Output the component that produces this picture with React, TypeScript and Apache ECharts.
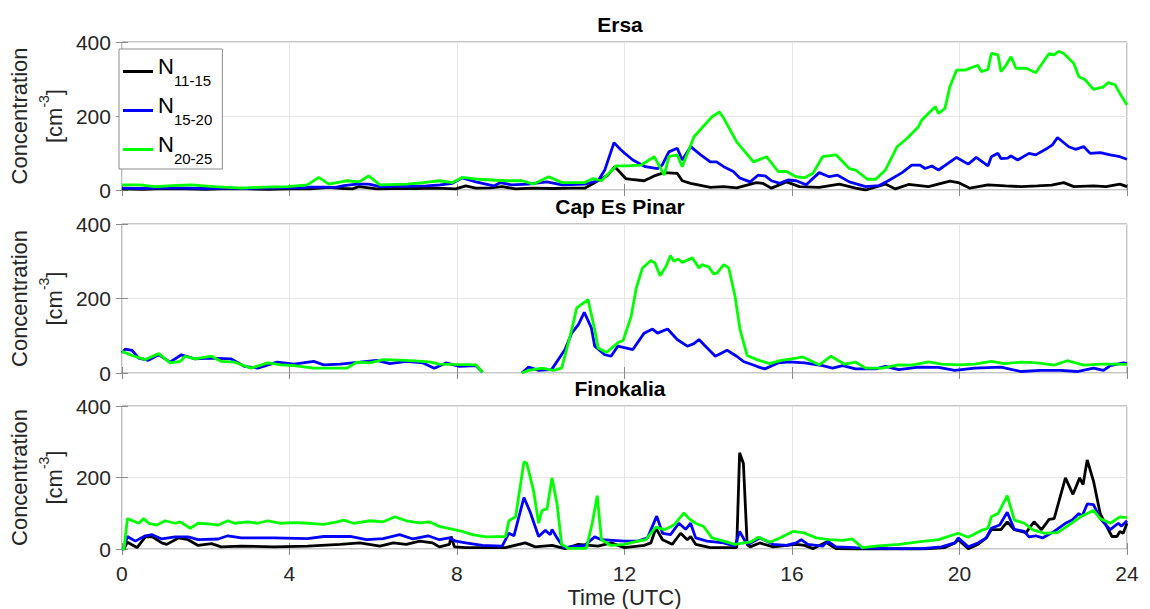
import React, { useEffect, useRef } from "react";
import * as echarts from "echarts";

type Pt = [number, number | string];

const FONT = '"Liberation Sans", Arial, Helvetica, sans-serif';

const seriesNames = ["N11-15", "N15-20", "N20-25"];
const seriesColors = ["#000000", "#0000ff", "#00ff00"];
const panelTitles = ["Ersa", "Cap Es Pinar", "Finokalia"];
const xMin = 0;
const xMax = 24;
const xStep = 4;
const yMin = 0;
const yMax = 400;
const yStep = 200;

// ---- Ersa ----
const ersaN1115: Pt[] = [[0,3],[0.5,2],[1,4],[1.5,3],[2,2],[2.5,4],[3,3],[3.5,2],[4,3],[4.5,3],[4.94,7],[5.3,4],[5.5,3],[5.66,9],[6.08,3],[6.5,4],[7,4],[7.5,5],[7.97,3],[8.21,11],[8.45,5],[8.8,6],[9.08,9],[9.4,3],[9.8,5],[10.3,4],[10.7,5],[11.05,5],[11.37,25],[11.6,40],[11.77,63],[12.03,31],[12.16,29],[12.47,25],[12.71,38],[12.95,47],[13.26,45],[13.38,25],[13.58,18],[14.05,7],[14.37,9],[14.68,6],[15.15,20],[15.3,18],[15.51,5],[15.87,22],[16.18,9],[16.65,7],[17.13,16],[17.52,5],[17.76,0],[18.23,16],[18.47,3],[18.78,15],[19.26,9],[19.77,24],[19.97,20],[20.25,5],[20.68,14],[21.1,11],[21.47,9],[21.86,11],[22.2,13],[22.49,20],[22.73,9],[23.2,11],[23.5,9],[23.83,16],[24,9]];
const ersaN1520: Pt[] = [[0,5],[0.5,4],[1,6],[1.5,5],[2,4],[2.5,5],[3,4],[3.5,5],[4,6],[4.3,6],[4.5,8],[4.8,8],[5.1,7],[5.3,12],[5.61,16],[5.9,16],[6.16,9],[6.6,10],[7.27,11],[7.6,14],[7.89,18],[8.13,33],[8.45,22],[8.88,11],[9.04,20],[9.3,14],[9.7,16],[10.15,22],[10.51,14],[11.05,16],[11.37,25],[11.53,54],[11.75,128],[11.9,110],[12.0,100],[12.2,81],[12.5,63],[12.79,58],[12.9,67],[13.06,103],[13.26,113],[13.38,81],[13.58,117],[13.82,95],[14.05,76],[14.2,76],[14.37,63],[14.6,50],[14.76,32],[15.0,22],[15.19,40],[15.36,38],[15.51,25],[15.71,18],[15.9,27],[16.1,25],[16.34,14],[16.65,47],[16.89,36],[17.09,40],[17.37,22],[17.76,9],[18.08,12],[18.3,25],[18.63,47],[18.86,67],[19.06,67],[19.18,58],[19.34,65],[19.5,54],[19.93,88],[20.21,70],[20.4,88],[20.68,65],[20.76,90],[20.92,99],[20.99,85],[21.15,86],[21.23,92],[21.39,81],[21.66,99],[21.82,95],[22.1,113],[22.22,122],[22.34,142],[22.61,117],[22.77,110],[22.97,117],[23.12,99],[23.36,101],[23.6,95],[23.83,90],[24,83]];
const ersaN2025: Pt[] = [[0,14],[0.4,14],[0.8,9],[1.2,12],[1.66,14],[2.2,9],[2.85,5],[3.4,8],[3.95,9],[4.43,14],[4.7,34],[4.94,16],[5.37,25],[5.66,22],[5.89,38],[6.16,14],[6.79,16],[7.2,20],[7.58,25],[7.89,20],[8.13,34],[8.53,29],[9.16,25],[9.55,25],[9.83,16],[10.19,36],[10.51,20],[11.05,20],[11.25,31],[11.45,25],[11.8,65],[12.05,65],[12.39,67],[12.71,90],[12.95,40],[13.06,90],[13.26,95],[13.38,63],[13.66,144],[14.09,198],[14.27,211],[14.37,194],[14.68,130],[15.08,76],[15.39,90],[15.67,50],[15.87,50],[16.1,36],[16.3,33],[16.5,45],[16.73,90],[17.05,95],[17.37,58],[17.52,54],[17.8,29],[18.0,29],[18.23,54],[18.51,117],[18.75,140],[19.02,171],[19.1,189],[19.42,225],[19.5,207],[19.65,220],[19.77,279],[19.93,324],[20.13,324],[20.44,337],[20.52,320],[20.68,326],[20.76,369],[20.92,365],[20.99,320],[21.11,337],[21.23,360],[21.35,329],[21.59,329],[21.82,317],[22.14,369],[22.26,365],[22.37,375],[22.49,369],[22.73,342],[22.85,306],[23.0,298],[23.2,272],[23.44,279],[23.55,290],[23.71,285],[23.83,261],[24,230]];

// ---- Cap Es Pinar ----
const capN1520: Pt[] = [[0,54],[0.08,64],[0.24,61],[0.4,40],[0.63,34],[0.88,49],[1.15,29],[1.42,49],[1.74,38],[2.14,40],[2.6,38],[2.92,18],[3.24,13],[3.71,29],[4.11,24],[4.58,31],[4.82,22],[5.21,24],[5.68,29],[6.08,34],[6.4,25],[6.79,31],[7.19,27],[7.46,13],[7.74,27],[8.06,18],[8.45,20],[8.61,2],[9.0,"-"],[9.55,0],[9.71,16],[9.95,7],[10.26,9],[10.58,63],[10.74,107],[10.9,130],[11.04,163],[11.21,121],[11.29,72],[11.53,49],[11.68,45],[11.84,72],[12.05,67],[12.2,63],[12.47,107],[12.67,118],[12.79,107],[13.03,118],[13.26,90],[13.5,72],[13.66,79],[13.78,90],[13.9,76],[14.17,45],[14.45,61],[14.68,45],[14.84,31],[15.16,18],[15.35,11],[15.67,27],[15.94,30],[16.3,27],[16.73,20],[16.97,13],[17.21,20],[17.52,11],[18.0,11],[18.23,18],[18.55,9],[19.02,16],[19.5,15],[19.89,7],[20.36,13],[20.99,16],[21.47,4],[21.94,7],[22.41,7],[22.81,4],[23.2,13],[23.44,7],[23.6,20],[23.91,27],[24,25]];
const capN2025: Pt[] = [[0,58],[0.24,47],[0.56,36],[0.88,52],[1.15,27],[1.39,31],[1.51,45],[1.74,38],[2.14,45],[2.37,31],[2.69,29],[3.08,13],[3.48,27],[3.8,22],[4.11,20],[4.58,13],[5.37,13],[5.61,29],[5.92,27],[6.24,36],[6.79,34],[7.34,30],[7.58,24],[7.9,23],[8.45,22],[8.61,2],[9.0,"-"],[9.55,0],[9.71,7],[10.03,13],[10.3,7],[10.5,13],[10.7,98],[10.86,175],[11.13,197],[11.29,116],[11.37,67],[11.57,55],[11.84,81],[11.97,88],[12.16,152],[12.28,228],[12.43,282],[12.63,302],[12.73,295],[12.85,261],[12.99,286],[13.1,315],[13.18,300],[13.28,306],[13.38,297],[13.62,309],[13.78,282],[13.85,291],[14.01,285],[14.13,266],[14.21,268],[14.37,291],[14.49,282],[14.64,206],[14.76,116],[14.93,47],[15.16,36],[15.47,25],[15.71,33],[16.1,40],[16.26,43],[16.65,22],[16.93,45],[17.25,24],[17.52,29],[17.76,13],[18.15,13],[18.55,22],[18.86,21],[19.26,30],[19.57,24],[19.97,22],[20.36,24],[20.76,31],[21.07,25],[21.47,29],[21.86,27],[22.26,21],[22.57,33],[22.97,21],[23.36,24],[23.68,24],[24,23]];

// ---- Finokalia ----
const finN1115: Pt[] = [[0,0],[0.05,0],[0.13,19],[0.36,4],[0.56,34],[0.72,35],[0.95,17],[1.07,13],[1.35,31],[1.58,26],[1.82,10],[2.14,15],[2.37,6],[2.85,8],[3.64,6],[4.43,8],[5.21,13],[5.68,17],[6.16,8],[6.48,17],[6.79,13],[7.11,22],[7.42,17],[7.58,6],[7.82,13],[7.86,35],[7.94,6],[8.21,4],[9.16,4],[9.63,17],[9.87,6],[10.27,10],[10.58,1],[10.9,13],[11.37,8],[11.68,17],[12.0,4],[12.47,10],[12.63,17],[12.75,58],[12.91,26],[13.14,13],[13.34,44],[13.5,26],[13.58,35],[13.7,13],[14.05,4],[14.68,4],[14.75,269],[14.84,239],[14.93,13],[15.0,6],[15.23,17],[15.55,6],[16.1,13],[16.3,10],[16.5,1],[16.81,19],[17.05,1],[17.52,0],[19.1,0],[19.65,4],[19.89,17],[19.97,26],[20.21,1],[20.44,13],[20.64,31],[20.76,54],[20.99,54],[21.14,76],[21.31,54],[21.59,46],[21.78,76],[21.96,54],[22.14,83],[22.26,85],[22.53,199],[22.71,153],[22.87,199],[22.95,180],[23.05,249],[23.2,190],[23.36,99],[23.64,35],[23.76,35],[23.83,49],[23.91,44],[24,72]];
const finN1520: Pt[] = [[0,0],[0.05,0],[0.13,35],[0.32,22],[0.56,37],[0.72,40],[0.95,28],[1.27,34],[1.58,34],[1.82,26],[2.3,28],[2.53,37],[2.85,31],[3.64,31],[4.43,29],[4.82,35],[5.45,35],[5.84,26],[6.24,29],[6.63,40],[6.95,28],[7.31,37],[7.58,26],[7.82,31],[7.97,22],[8.21,17],[8.61,10],[9.08,8],[9.24,44],[9.36,37],[9.6,144],[9.75,103],[9.95,35],[10.11,52],[10.23,40],[10.27,55],[10.39,31],[10.55,4],[11.05,10],[11.29,34],[11.45,26],[12.0,22],[12.32,22],[12.55,31],[12.77,92],[12.91,44],[13.1,40],[13.3,72],[13.46,55],[13.58,72],[13.7,31],[13.97,22],[14.37,17],[14.64,8],[14.75,49],[14.88,22],[14.96,13],[15.23,31],[15.55,13],[15.87,10],[16.1,17],[16.22,26],[16.38,13],[16.73,8],[16.85,22],[17.05,6],[17.52,4],[18.31,1],[19.1,1],[19.57,6],[19.89,17],[19.97,31],[20.21,6],[20.44,17],[20.64,31],[20.76,58],[20.96,67],[21.14,103],[21.31,55],[21.55,49],[21.66,34],[21.82,37],[21.98,31],[22.26,49],[22.53,72],[22.69,81],[22.85,99],[22.93,92],[23.05,126],[23.2,124],[23.36,85],[23.6,54],[23.79,72],[23.87,64],[24,79]];
const finN2025: Pt[] = [[0,0],[0.05,0],[0.13,85],[0.4,72],[0.52,85],[0.64,72],[0.84,67],[1.03,79],[1.27,72],[1.39,76],[1.63,58],[1.82,72],[2.06,70],[2.3,67],[2.53,79],[2.69,72],[3.0,76],[3.24,72],[3.48,79],[3.8,72],[4.11,74],[4.43,72],[4.82,69],[5.14,76],[5.29,81],[5.53,72],[5.92,79],[6.24,76],[6.52,90],[6.79,79],[7.11,73],[7.34,76],[7.58,63],[7.9,55],[8.13,49],[8.37,40],[8.69,34],[9.16,35],[9.24,79],[9.4,90],[9.6,244],[9.67,239],[9.83,162],[9.95,72],[10.03,108],[10.15,112],[10.27,199],[10.39,126],[10.5,13],[10.66,2],[11.09,2],[11.23,72],[11.35,149],[11.45,26],[11.68,10],[12.0,13],[12.32,22],[12.51,26],[12.75,61],[12.95,54],[13.18,67],[13.42,101],[13.54,85],[13.7,72],[13.89,63],[14.09,31],[14.37,22],[14.64,13],[14.84,17],[15.0,19],[15.2,33],[15.47,19],[15.71,31],[16.02,49],[16.26,46],[16.58,31],[16.89,26],[17.21,24],[17.44,28],[17.68,4],[18.0,8],[18.55,13],[19.02,20],[19.5,26],[19.97,44],[20.21,33],[20.52,52],[20.68,58],[20.76,90],[20.92,99],[21.14,149],[21.31,81],[21.55,72],[21.74,54],[22.02,44],[22.34,46],[22.61,67],[22.89,90],[23.2,108],[23.36,85],[23.6,72],[23.83,90],[24,88]];

// panel -> [N11-15, N15-20, N20-25] (null = not measured)
const panelData: (Pt[] | null)[][] = [
  [ersaN1115, ersaN1520, ersaN2025],
  [null, capN1520, capN2025],
  [finN1115, finN1520, finN2025],
];

const GRID_LEFT = 113;
const GRID_WIDTH = 1014;
const gridTops = [42, 224, 406];
const gridHeights = [148, 149, 147];

const TICK_COLOR = "#262626";
const BOX_COLOR = "#8c8c8c";
const GRIDLINE_COLOR = "#e6e6e6";

export default function App() {
  const ref = useRef<HTMLDivElement>(null);

  useEffect(() => {
    if (!ref.current) return;
    const chart = echarts.init(ref.current, undefined, { renderer: "svg" });

    const grids = gridTops.map((top, i) => ({
      left: GRID_LEFT,
      top,
      width: GRID_WIDTH,
      height: gridHeights[i],
      show: true,
      borderColor: BOX_COLOR,
      borderWidth: 1,
      backgroundColor: "#ffffff",
      containLabel: false,
    }));

    const bottomX = gridTops.map((_, i) => ({
      type: "value",
      gridIndex: i,
      position: "bottom",
      min: xMin,
      max: xMax,
      interval: xStep,
      axisLine: { show: false },
      axisTick: { show: true, inside: true, length: 6, lineStyle: { color: BOX_COLOR } },
      axisLabel: {
        show: i === 2,
        color: TICK_COLOR,
        fontSize: 21,
        fontFamily: FONT,
        margin: 14,
      },
      splitLine: { show: true, lineStyle: { color: GRIDLINE_COLOR, width: 1 } },
      name: i === 2 ? "Time (UTC)" : "",
      nameLocation: "middle",
      nameGap: 37,
      nameTextStyle: { color: TICK_COLOR, fontSize: 22, fontFamily: FONT },
    }));
    const topX = gridTops.map((_, i) => ({
      type: "value",
      gridIndex: i,
      position: "top",
      min: xMin,
      max: xMax,
      interval: xStep,
      axisLine: { show: false },
      axisTick: { show: true, inside: true, length: 6, lineStyle: { color: BOX_COLOR } },
      axisLabel: { show: false },
      splitLine: { show: false },
    }));
    const leftY = gridTops.map((_, i) => ({
      type: "value",
      gridIndex: i,
      position: "left",
      min: yMin,
      max: yMax,
      interval: yStep,
      axisLine: { show: false },
      axisTick: { show: true, inside: true, length: 6, lineStyle: { color: BOX_COLOR } },
      axisLabel: { color: TICK_COLOR, fontSize: 21, fontFamily: FONT, margin: 11 },
      splitLine: { show: true, lineStyle: { color: GRIDLINE_COLOR, width: 1 } },
      name: "{a|Concentration}\n{a|[cm}{b|-3}{a|]}",
      nameLocation: "middle",
      nameRotate: 90,
      nameGap: 42,
      nameTextStyle: {
        color: TICK_COLOR,
        fontFamily: FONT,
        rich: {
          a: { fontSize: 22, lineHeight: 35, fontFamily: FONT, color: TICK_COLOR },
          b: { fontSize: 14, lineHeight: 20, verticalAlign: "top", fontFamily: FONT, color: TICK_COLOR },
        },
      },
    }));
    const rightY = gridTops.map((_, i) => ({
      type: "value",
      gridIndex: i,
      position: "right",
      min: yMin,
      max: yMax,
      interval: yStep,
      axisLine: { show: false },
      axisTick: { show: true, inside: true, length: 6, lineStyle: { color: BOX_COLOR } },
      axisLabel: { show: false },
      splitLine: { show: false },
    }));

    const series: any[] = [];
    panelData.forEach((sets, p) => {
      sets.forEach((data, k) => {
        if (!data) return;
        series.push({
          type: "line",
          name: seriesNames[k],
          xAxisIndex: p,
          yAxisIndex: p,
          data,
          showSymbol: false,
          symbol: "none",
          connectNulls: false,
          color: seriesColors[k],
          lineStyle: { color: seriesColors[k], width: 2.8 },
          z: 2 + k,
        });
      });
    });

    const titles = panelTitles.map((t, i) => ({
      type: "text",
      x: GRID_LEFT + GRID_WIDTH / 2,
      y: gridTops[i] - 28,
      style: {
        text: t,
        fill: "#000000",
        font: `bold 21px ${FONT}`,
        align: "center",
        verticalAlign: "top",
        textAlign: "center",
        textVerticalAlign: "top",
      },
    }));

    chart.setOption({
      animation: false,
      backgroundColor: "#ffffff",
      grid: grids,
      xAxis: [...bottomX, ...topX],
      yAxis: [...leftY, ...rightY],
      legend: {
        data: seriesNames.map((n) => ({ name: n, icon: "rect" })),
        orient: "vertical",
        left: 119,
        top: 49,
        itemWidth: 30,
        itemHeight: 3,
        itemGap: 6,
        padding: [6, 9, 3, 4],
        backgroundColor: "#ffffff",
        borderColor: BOX_COLOR,
        borderWidth: 1,
        borderRadius: 0,
        selectedMode: false,
        formatter: (name: string) => `{n|N}{s|${name.slice(1)}}{h| }`,
        textStyle: {
          fontFamily: FONT,
          color: "#000000",
          rich: {
            n: { fontSize: 22, lineHeight: 22, verticalAlign: "top", fontFamily: FONT, color: "#000000" },
            s: { fontSize: 15, lineHeight: 15, verticalAlign: "bottom", fontFamily: FONT, color: "#000000" },
            h: { fontSize: 4, lineHeight: 33, width: 1 },
          },
        },
      },
      graphic: titles,
      series,
    });

    return () => chart.dispose();
  }, []);

  return (
    <div
      ref={ref}
      style={{ position: "fixed", left: 0, top: 0, width: 1150, height: 609, background: "#fff" }}
    />
  );
}
